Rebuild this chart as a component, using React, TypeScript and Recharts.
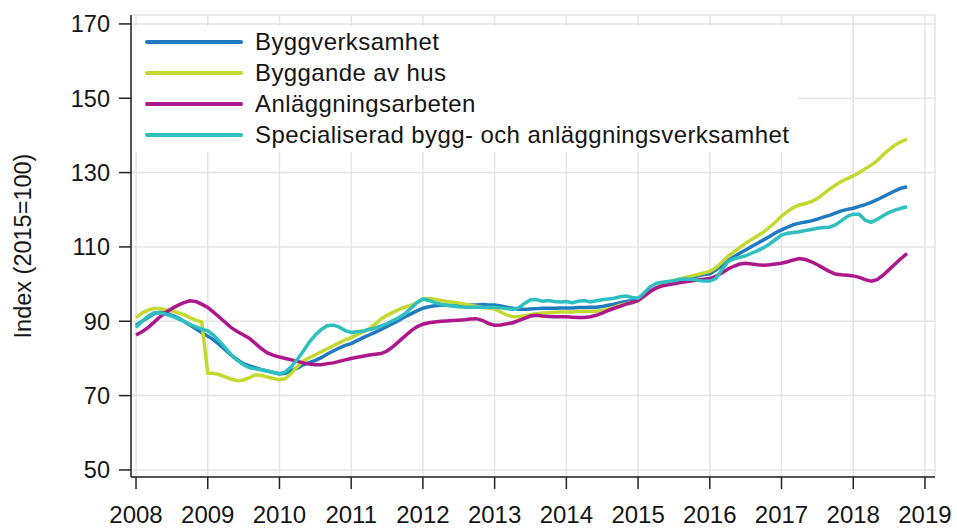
import React from "react";
import { LineChart, Line, XAxis, YAxis, CartesianGrid, Legend } from "recharts";

// monthly index values, Jan 2008 .. Oct 2018 (2015=100)
const startYear = 2008;

const byggverksamhet = [
  88.9, 90.0, 91.0, 92.0, 92.4, 92.3, 91.6, 90.9, 90.0, 89.0, 88.0, 87.0, // 2008
  86.0, 85.0, 83.6, 82.2, 80.8, 79.6, 78.6, 78.0, 77.5, 77.0, 76.6, 76.2, // 2009
  75.8, 76.0, 76.7, 77.4, 78.3, 78.9, 79.5, 80.2, 81.2, 82.0, 82.8, 83.5, // 2010
  84.0, 84.8, 85.6, 86.3, 87.0, 87.8, 88.6, 89.4, 90.3, 91.2, 92.0, 92.8, // 2011
  93.5, 93.9, 94.2, 94.3, 94.3, 94.2, 94.3, 94.3, 94.4, 94.4, 94.5, 94.4, // 2012
  94.4, 94.1, 93.8, 93.5, 93.2, 93.2, 93.3, 93.4, 93.5, 93.5, 93.5, 93.6, // 2013
  93.6, 93.6, 93.7, 93.7, 93.8, 93.8, 94.0, 94.3, 94.6, 95.0, 95.3, 95.5, // 2014
  95.8, 96.8, 98.0, 99.0, 99.8, 100.5, 100.8, 101.0, 101.4, 101.8, 102.2, 102.6, // 2015
  102.8, 103.8, 105.0, 106.3, 107.3, 108.3, 109.2, 110.1, 111.0, 111.9, 112.8, 113.8, // 2016
  114.6, 115.3, 116.0, 116.4, 116.7, 117.0, 117.5, 118.0, 118.5, 119.1, 119.7, 120.1, // 2017
  120.4, 120.9, 121.4, 122.0, 122.7, 123.5, 124.3, 125.1, 125.8, 126.2, // 2018
];

const byggandeAvHus = [
  91.0, 92.2, 93.0, 93.5, 93.4, 93.1, 92.8, 92.3, 91.8, 91.0, 90.3, 89.8,
  76.0, 76.0, 75.6, 75.0, 74.4, 74.0, 74.2, 74.8, 75.6, 75.4, 75.0, 74.6,
  74.3, 74.6, 76.0, 77.8, 79.3, 80.2, 81.0, 81.8, 82.6, 83.4, 84.2, 85.0,
  85.6, 86.4, 87.2, 88.0, 89.2, 90.6, 91.6, 92.4, 93.2, 93.8, 94.3, 95.0,
  96.0, 96.1, 95.9, 95.6, 95.3, 95.1, 94.9, 94.6, 94.3, 94.0, 93.7, 93.5,
  93.3, 92.5, 91.7, 91.3, 91.2, 91.5, 91.8, 92.0, 92.2, 92.3, 92.4, 92.5,
  92.5, 92.5, 92.6, 92.6, 92.7, 92.7, 92.9, 93.3, 93.8, 94.3, 94.7, 95.0,
  95.4, 96.6, 97.9, 99.0, 99.8, 100.4, 101.0, 101.4, 101.8, 102.2, 102.6, 103.0,
  103.4, 104.4, 105.8, 107.4, 108.6, 109.8, 111.0, 112.0, 113.0, 114.0, 115.3, 116.7,
  118.3, 119.5, 120.6, 121.3, 121.7, 122.2, 123.0, 124.3, 125.5, 126.6, 127.6, 128.4,
  129.1, 130.0, 131.0, 132.0, 133.2, 134.8, 136.2, 137.4, 138.3, 139.0,
];

const anlaggningsarbeten = [
  86.3, 87.2, 88.3, 89.7, 91.2, 92.4, 93.4, 94.3, 95.0, 95.5, 95.3, 94.6,
  93.7, 92.4, 91.0, 89.6, 88.2, 87.2, 86.3, 85.4, 84.0, 82.6, 81.5, 80.8,
  80.4, 80.0, 79.6, 79.2, 78.8, 78.5, 78.3, 78.3, 78.6, 78.8, 79.2, 79.6,
  80.0, 80.3, 80.6, 80.9, 81.1, 81.3, 82.0, 83.2, 84.6, 86.0, 87.4, 88.5,
  89.2, 89.6, 89.8, 90.0, 90.1, 90.2, 90.3, 90.4, 90.6, 90.7, 90.2, 89.4,
  88.9, 89.0, 89.3, 89.6, 90.2, 90.8, 91.4, 91.6, 91.4, 91.3, 91.2, 91.2,
  91.2, 91.1, 91.0, 91.0, 91.2, 91.6, 92.2, 92.9, 93.5, 94.0, 94.6, 95.0,
  95.6, 96.8, 98.0, 98.9, 99.5, 99.8, 100.1, 100.4, 100.6, 100.9, 101.1, 101.3,
  101.5, 102.1, 103.0, 104.0, 104.8, 105.4, 105.6, 105.4, 105.2, 105.1, 105.2, 105.4,
  105.6, 106.0, 106.5, 106.9, 106.6, 106.0, 105.2, 104.3, 103.4, 102.7, 102.5, 102.4,
  102.2, 101.8, 101.2, 100.8, 101.2, 102.4, 103.9, 105.4, 106.9, 108.2,
];

const specialiserad = [
  88.3, 90.0, 91.3, 92.3, 92.3, 91.9, 91.4, 90.7, 90.0, 89.2, 88.5, 87.9,
  87.4, 86.2, 84.6, 82.8, 80.8, 79.4, 78.3, 77.5, 77.2, 76.9, 76.6, 76.2,
  75.9, 76.4, 77.8, 79.8, 82.0, 84.4, 86.3, 87.8, 88.8, 89.0, 88.4, 87.5,
  87.0, 87.2, 87.4, 87.8, 88.2, 88.7, 89.4, 90.2, 91.0, 92.0, 93.5, 95.0,
  96.0, 95.6, 95.0, 94.6, 94.3, 94.1, 93.9, 93.8, 93.8, 93.8, 93.8, 93.8,
  93.8, 93.6, 93.4, 93.2, 93.6, 94.8, 95.8, 95.8, 95.4, 95.6, 95.3, 95.2,
  95.3, 95.0, 95.4, 95.6, 95.2, 95.5, 95.8, 96.0, 96.2, 96.6, 96.8, 96.4,
  96.2, 97.6, 99.2, 100.2, 100.5, 100.7, 100.9, 101.3, 101.4, 101.3, 101.0, 100.8,
  100.8, 101.5, 103.8, 106.0, 106.8, 107.2, 107.6, 108.3, 109.0, 109.8, 110.8, 112.0,
  113.2, 113.7, 113.9, 114.1, 114.4, 114.7, 115.0, 115.2, 115.3, 115.9, 117.0, 118.2,
  118.8, 118.8, 117.2, 116.6, 117.4, 118.4, 119.3, 119.9, 120.4, 120.8,
];

const seriesNames = [
  "Byggverksamhet",
  "Byggande av hus",
  "Anläggningsarbeten",
  "Specialiserad bygg- och anläggningsverksamhet",
];
const seriesColors = ["#1f7bbf", "#c3d92f", "#ae168e", "#2ebfc0"];
const yearTicks = [2008, 2009, 2010, 2011, 2012, 2013, 2014, 2015, 2016, 2017, 2018, 2019];
const valueTicks = [50, 70, 90, 110, 130, 150, 170];

const data = byggverksamhet.map((v, i) => ({
  t: startYear + i / 12,
  s0: v,
  s1: byggandeAvHus[i],
  s2: anlaggningsarbeten[i],
  s3: specialiserad[i],
}));

const FONT = '"Liberation Sans", Arial, sans-serif';
const TEXT = "#151515";

function LegendBox() {
  return (
    <div style={{ background: "#fff", width: 665, height: 126, fontFamily: FONT }}>
      {seriesNames.map((name, i) => (
        <div key={name} style={{ display: "flex", alignItems: "center", height: 31 }}>
          <div
            style={{
              marginLeft: 12,
              width: 98,
              height: 4,
              borderRadius: 2,
              background: seriesColors[i],
            }}
          />
          <span
            style={{
              marginLeft: 12,
              fontSize: 24,
              letterSpacing: 0.4,
              color: TEXT,
              whiteSpace: "nowrap",
            }}
          >
            {name}
          </span>
        </div>
      ))}
    </div>
  );
}

export default function App() {
  return (
    <div style={{ position: "absolute", left: 0, top: 0, width: 957, height: 530, background: "#fff" }}>
      <LineChart
        width={957}
        height={530}
        data={data}
        margin={{ top: 15, right: 22, bottom: 0, left: 0 }}
      >
        <CartesianGrid stroke="#e4e4e4" strokeWidth={1.5} />
        <XAxis
          dataKey="t"
          type="number"
          domain={[2007.93, 2019.14]}
          ticks={yearTicks}
          allowDataOverflow
          height={53}
          tickSize={12}
          tickMargin={17}
          stroke="#222"
          strokeWidth={1.5}
          tick={{ fill: TEXT, fontSize: 24, fontFamily: FONT }}
        />
        <YAxis
          type="number"
          domain={[48.1, 172.4]}
          ticks={valueTicks}
          allowDataOverflow
          width={131}
          tickSize={12}
          tickMargin={9}
          stroke="#222"
          strokeWidth={1.5}
          tick={{ fill: TEXT, fontSize: 23.5, fontFamily: FONT }}
          label={{
            content: () => (
              <text
                x={23}
                y={246}
                transform="rotate(-90, 23, 246)"
                textAnchor="middle"
                dominantBaseline="central"
                fill={TEXT}
                fontSize={23.5}
                fontFamily={FONT}
              >
                Index (2015=100)
              </text>
            ),
          }}
        />
        <Legend
          layout="vertical"
          align="center"
          verticalAlign="middle"
          content={() => <LegendBox />}
          wrapperStyle={{ position: "absolute", left: 133, top: 26, width: 665, height: 126 }}
        />
        {["s0", "s1", "s2", "s3"].map((k, i) => (
          <Line
            key={k}
            dataKey={k}
            name={seriesNames[i]}
            type="linear"
            stroke={seriesColors[i]}
            strokeWidth={3.5}
            dot={false}
            isAnimationActive={false}
          />
        ))}
      </LineChart>
    </div>
  );
}
